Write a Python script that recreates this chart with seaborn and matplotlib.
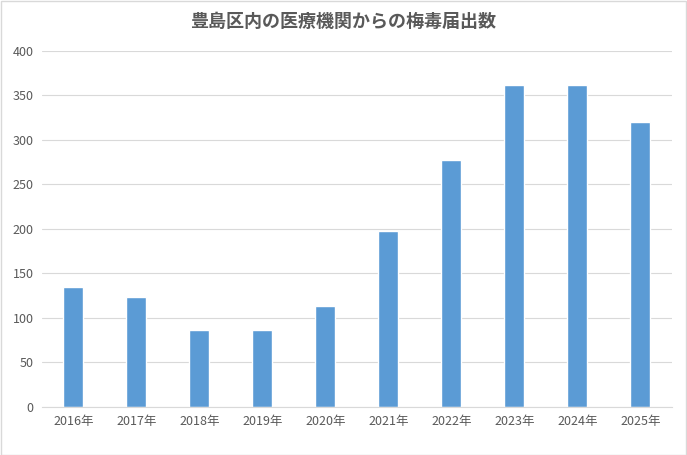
import matplotlib
matplotlib.use("Agg")
import matplotlib.pyplot as plt
import seaborn as sns
import pandas as pd

years = ["2016年","2017年","2018年","2019年","2020年","2021年","2022年","2023年","2024年","2025年"]
counts = [135, 124, 86, 86, 114, 198, 278, 362, 362, 320]

sns.set_style("white")
plt.rcParams['font.family'] = ['Noto Sans CJK JP', 'DejaVu Sans']

fig = plt.figure(figsize=(6.87, 4.55), dpi=100)
ax = fig.add_axes([0.061, 0.1055, 0.917, 0.7825])
df = pd.DataFrame({"year": years, "count": counts})
sns.barplot(data=df, x="year", y="count", color="#5B9BD5", saturation=1, width=0.32, ax=ax)
ax.set_ylim(0, 400)
ax.set_yticks(range(0, 401, 50))
ax.yaxis.grid(True, color="#D9D9D9", linewidth=0.8)
ax.set_axisbelow(True)
for s in ["top", "right", "left"]:
    ax.spines[s].set_visible(False)
ax.spines["bottom"].set_color("#D9D9D9")
ax.set_xlabel("")
ax.set_ylabel("")
ax.tick_params(axis="both", length=0, labelsize=9, colors="#595959", pad=6)
fig.text(0.5, 0.952, "豊島区内の医療機関からの梅毒届出数", ha="center", va="center",
         fontsize=13, fontweight="bold", color="#595959")
fig.patches.append(plt.Rectangle((0.001, 0.001), 0.997, 0.997, transform=fig.transFigure,
                                 fill=False, edgecolor="#D9D9D9", linewidth=1))
fig.savefig("out.png", dpi=100)
